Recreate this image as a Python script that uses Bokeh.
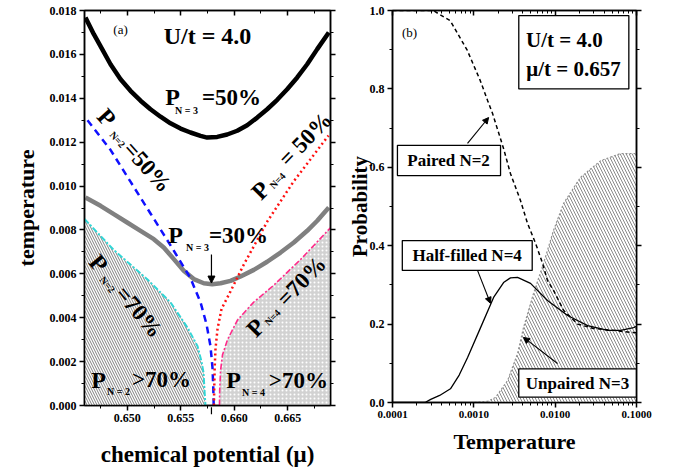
from bokeh.plotting import figure
from bokeh.layouts import row
from bokeh.models import (LinearAxis, LogAxis, FixedTicker, PrintfTickFormatter,
                          Label, Arrow, NormalHead, Range1d)
from bokeh.embed import file_html
from bokeh.resources import INLINE

SERIF = "Liberation Serif"

# ---------------- panel (a) data: temperature vs chemical potential ----------------
p3_50_mu = [0.64609, 0.64687, 0.64765, 0.64843, 0.64937, 0.65030, 0.65124, 0.65217, 0.65311,
            0.65404, 0.65498, 0.65591, 0.65685, 0.65747, 0.65841, 0.65934, 0.66028, 0.66121,
            0.66215, 0.66308, 0.66402, 0.66495, 0.66589, 0.66682, 0.66776, 0.66884]
p3_50_T = [0.01768, 0.01692, 0.01624, 0.01555, 0.01487, 0.01434, 0.01389, 0.01350, 0.01316,
           0.01286, 0.01262, 0.01244, 0.01229, 0.01221, 0.01224, 0.01235, 0.01252, 0.01277,
           0.01312, 0.01350, 0.01393, 0.01441, 0.01495, 0.01555, 0.01624, 0.01700]

p3_30_mu = [0.64609, 0.64750, 0.64874, 0.64999, 0.65124, 0.65248, 0.65341, 0.65435, 0.65528,
            0.65622, 0.65715, 0.65794, 0.65872, 0.65965, 0.66059, 0.66183, 0.66308, 0.66433,
            0.66557, 0.66682, 0.66776, 0.66884]
p3_30_T = [0.00948, 0.00910, 0.00872, 0.00834, 0.00796, 0.00758, 0.00720, 0.00667, 0.00614,
           0.00576, 0.00557, 0.00553, 0.00557, 0.00568, 0.00588, 0.00618, 0.00655, 0.00697,
           0.00743, 0.00796, 0.00842, 0.00902]

p2_50_mu = [0.64628, 0.64843, 0.65030, 0.65217, 0.65404, 0.65591, 0.65685, 0.65741, 0.65778,
            0.65797, 0.65804, 0.65808]
p2_50_T = [0.0130, 0.01165, 0.0102, 0.00875, 0.0073, 0.0058, 0.0047, 0.0037, 0.0027,
           0.0017, 0.0008, 0.0]

p4_50_mu = [0.65810, 0.65813, 0.65817, 0.65825, 0.65844, 0.65881, 0.65965, 0.66087, 0.66311,
            0.66554, 0.66881]
p4_50_T = [0.0, 0.0008, 0.0017, 0.0026, 0.0035, 0.0044, 0.0052, 0.0064, 0.0084, 0.0102, 0.0123]

p2_70_mu = [0.6460, 0.64871, 0.65189, 0.65404, 0.65563, 0.65657, 0.65694, 0.65713, 0.65722, 0.65731]
p2_70_T = [0.0085, 0.0071, 0.00574, 0.0047, 0.00355, 0.0027, 0.0020, 0.0015, 0.0007, 0.0]

p4_70_mu = [0.65862, 0.65864, 0.65872, 0.65890, 0.65937, 0.66031, 0.66180, 0.66367, 0.66620, 0.6690]
p4_70_T = [0.0, 0.0007, 0.0016, 0.0023, 0.0030, 0.0039, 0.0047, 0.00547, 0.00665, 0.0081]

mu_ticks = [0.650, 0.655, 0.660, 0.665]
mu_minor = [0.6475, 0.6525, 0.6575, 0.6625, 0.6675]
T_ticks = [0.000, 0.002, 0.004, 0.006, 0.008, 0.010, 0.012, 0.014, 0.016, 0.018]
T_minor = [0.001, 0.003, 0.005, 0.007, 0.009, 0.011, 0.013, 0.015, 0.017]

# ---------------- panel (b) data: probability vs temperature ----------------
paired_T = [1.0e-4, 3.16e-4, 5.13e-4, 8.32e-4, 1.20e-3, 1.48e-3, 1.70e-3, 2.32e-3, 2.82e-3,
            3.75e-3, 4.57e-3, 5.74e-3, 7.00e-3, 8.05e-3, 9.55e-3, 1.27e-2, 1.89e-2, 2.96e-2,
            5.22e-2, 8.51e-2, 0.1]
paired_P = [1.0, 1.0, 0.974, 0.898, 0.821, 0.77, 0.737, 0.648, 0.584,
            0.515, 0.457, 0.406, 0.355, 0.311, 0.286, 0.235, 0.200, 0.189,
            0.184, 0.179, 0.178]

half_T = [1.0e-4, 2.51e-4, 2.95e-4, 3.80e-4, 5.16e-4, 6.61e-4, 8.38e-4, 1.21e-3, 1.75e-3,
          2.32e-3, 2.82e-3, 3.45e-3, 4.98e-3, 8.05e-3, 1.42e-2, 2.51e-2, 4.42e-2, 6.37e-2,
          9.20e-2, 0.1]
half_P = [0.0, 0.0, 0.008, 0.018, 0.035, 0.07, 0.115, 0.191, 0.268,
          0.306, 0.318, 0.319, 0.304, 0.26, 0.222, 0.196, 0.184, 0.184,
          0.191, 0.194]

unpaired_T = [9.1e-4, 1.48e-3, 1.85e-3, 2.60e-3, 3.45e-3, 4.08e-3, 5.42e-3, 7.19e-3, 9.55e-3,
              1.27e-2, 2.04e-2, 3.63e-2, 6.37e-2, 0.1]
unpaired_P = [0.0, 0.003, 0.013, 0.056, 0.125, 0.191, 0.278, 0.355, 0.439,
              0.508, 0.574, 0.617, 0.635, 0.635]

logT_ticks = [1e-4, 1e-3, 1e-2, 1e-1]
logT_minor = [m * 10.0 ** e for e in (-4, -3, -2) for m in range(2, 10)]
P_ticks = [0.0, 0.2, 0.4, 0.6, 0.8, 1.0]
P_minor = [0.1, 0.3, 0.5, 0.7, 0.9]


def style_axis(ax, ticks, minor, fmt, label_size="11px", hidden=False, inward=False):
    ax.ticker = FixedTicker(ticks=ticks, minor_ticks=minor)
    ax.formatter = PrintfTickFormatter(format=fmt)
    ax.axis_line_width = 1.5
    ax.axis_line_color = "black"
    ax.major_tick_line_width = 1.5
    ax.minor_tick_line_width = 1
    if inward:
        ax.major_tick_in, ax.major_tick_out = 5, 0
        ax.minor_tick_in, ax.minor_tick_out = 3, 0
    else:
        ax.major_tick_in, ax.major_tick_out = 0, 5
        ax.minor_tick_in, ax.minor_tick_out = 0, 3
    ax.major_label_text_font = SERIF
    ax.major_label_text_font_style = "bold"
    ax.axis_label_text_font = SERIF
    ax.axis_label_text_font_style = "bold"
    ax.axis_label_text_color = "black"
    if hidden:
        ax.major_label_text_color = None
        ax.major_label_text_font_size = "1px"
        ax.major_label_standoff = 0
    else:
        ax.major_label_text_color = "black"
        ax.major_label_text_font_size = label_size
        ax.major_label_standoff = 3


def txt(p, x, y, text, size, angle=0.0, bold=True):
    p.add_layout(Label(x=x, y=y, text=text, text_font=SERIF, text_font_size=f"{size}px",
                       text_font_style="bold" if bold else "normal", text_color="black",
                       text_align="center", text_baseline="middle", angle=angle))


# ======================= panel (a) =======================
p1 = figure(frame_width=246, frame_height=395, x_range=Range1d(0.646, 0.669),
            y_range=Range1d(0.0, 0.018), output_backend="svg", toolbar_location=None,
            min_border_left=84, min_border_right=10, min_border_top=8, min_border_bottom=65)
p1.grid.visible = False
p1.outline_line_color = "black"
p1.outline_line_width = 1.5

style_axis(p1.xaxis[0], mu_ticks, mu_minor, "%.3f", label_size="12px")
style_axis(p1.yaxis[0], T_ticks, T_minor, "%.3f", label_size="12px")
p1.xaxis[0].axis_label = "chemical potential (\u03bc)"
p1.xaxis[0].axis_label_text_font_size = "23px"
p1.xaxis[0].axis_label_standoff = 17
p1.yaxis[0].axis_label = "temperature"
p1.yaxis[0].axis_label_text_font_size = "22px"
p1.yaxis[0].axis_label_standoff = 8
top1 = LinearAxis()
style_axis(top1, mu_ticks, mu_minor, "%.3f", hidden=True, inward=True)
p1.add_layout(top1, "above")
right1 = LinearAxis()
style_axis(right1, T_ticks, T_minor, "%.3f", hidden=True)
p1.add_layout(right1, "right")

# shaded regions
p1.varea(x=p2_70_mu, y1=0, y2=p2_70_T, fill_color="white", hatch_pattern="left_diagonal_line",
         hatch_color="#808080", hatch_scale=5, hatch_weight=1)
p1.varea(x=p4_70_mu, y1=0, y2=p4_70_T, fill_color="#d2d2d2", hatch_pattern="dot",
         hatch_color="white", hatch_scale=4, hatch_weight=1.5)
p1.line(p2_70_mu, p2_70_T, line_color="#33d6d6", line_width=2, line_dash="6 2 2 2")
p1.line(p4_70_mu, p4_70_T, line_color="#ff2a8a", line_width=1.6, line_dash="6 2 2 2")
p1.line(p3_30_mu, p3_30_T, line_color="#808080", line_width=4.5)
p1.line(p3_50_mu, p3_50_T, line_color="black", line_width=4.5)
p1.line(p2_50_mu, p2_50_T, line_color="#1010ff", line_width=2.5, line_dash="7 5")
p1.line(p4_50_mu, p4_50_T, line_color="#ff1010", line_width=2.5, line_dash="2 3")

# annotations panel (a)
txt(p1, 0.64937, 0.01713, "(a)", 13, bold=False)
txt(p1, 0.65750, 0.01686, "U/t = 4.0", 24)
# P_{N=3}=50%
txt(p1, 0.65423, 0.01408, "P", 24)
txt(p1, 0.65554, 0.01344, "N = 3", 10)
txt(p1, 0.65975, 0.01404, "=50%", 23)
# P_{N=3}=30%
txt(p1, 0.65451, 0.00779, "P", 24)
txt(p1, 0.65657, 0.00720, "N = 3", 10)
txt(p1, 0.66040, 0.00775, "=30%", 23)
# P_{N=2}=50% (rotated)
a = -0.84
txt(p1, 0.64806, 0.01312, "P", 24, angle=a)
txt(p1, 0.64909, 0.01212, "N=2", 10, angle=a)
txt(p1, 0.65188, 0.01087, "=50%", 23, angle=a)
# P_{N=4}=50% (rotated)
a = 0.80
txt(p1, 0.66246, 0.00980, "P", 24, angle=a)
txt(p1, 0.66405, 0.01025, "N=4", 10, angle=a)
txt(p1, 0.66665, 0.01213, "= 50%", 23, angle=a)
# P_{N=2}=70% (rotated)
a = -0.87
txt(p1, 0.64731, 0.00647, "P", 24, angle=a)
txt(p1, 0.64815, 0.00551, "N=2", 10, angle=a)
txt(p1, 0.65110, 0.00426, "=70%", 23, angle=a)
# P_{N=4}=70% (rotated)
a = 0.80
txt(p1, 0.66199, 0.00355, "P", 24, angle=a)
txt(p1, 0.66358, 0.00401, "N=4", 10, angle=a)
txt(p1, 0.66630, 0.00566, "=70%", 23, angle=a)
# P_{N=2}>70%, P_{N=4}>70%
txt(p1, 0.64731, 0.00118, "P", 24)
txt(p1, 0.64918, 0.00064, "N = 2", 10)
txt(p1, 0.65320, 0.00118, ">70%", 23)
txt(p1, 0.65993, 0.00114, "P", 24)
txt(p1, 0.66180, 0.00059, "N = 4", 10)
txt(p1, 0.66600, 0.00114, ">70%", 23)
# arrows
p1.add_layout(Arrow(end=NormalHead(size=7, fill_color="black", line_color="black"),
                    x_start=0.65787, y_start=0.00688, x_end=0.65787, y_end=0.00558,
                    line_width=1.2, line_color="black"))
p1.add_layout(Arrow(end=NormalHead(size=7, fill_color="black", line_color="black"),
                    x_start=0.65787, y_start=-0.00109, x_end=0.65787, y_end=-0.00008,
                    line_width=1.2, line_color="black"))
txt(p1, 0.65778, -0.00146, "\u03bc", 16)
txt(p1, 0.65853, -0.00169, "P", 10)

# ======================= panel (b) =======================
p2 = figure(frame_width=244, frame_height=392, x_axis_type="log", x_range=Range1d(1e-4, 0.1),
            y_range=Range1d(0.0, 1.0), output_backend="svg", toolbar_location=None,
            min_border_left=52, min_border_right=30, min_border_top=10, min_border_bottom=66)
p2.grid.visible = False
p2.outline_line_color = "black"
p2.outline_line_width = 1.5

style_axis(p2.xaxis[0], logT_ticks, logT_minor, "%.4f")
style_axis(p2.yaxis[0], P_ticks, P_minor, "%.1f", label_size="12px")
p2.xaxis[0].axis_label = "Temperature"
p2.xaxis[0].axis_label_text_font_size = "22px"
p2.xaxis[0].axis_label_standoff = 8
p2.yaxis[0].axis_label = "Probability"
p2.yaxis[0].axis_label_text_font_size = "21px"
p2.yaxis[0].axis_label_standoff = -5
top2 = LogAxis()
style_axis(top2, logT_ticks, logT_minor, "%.4f", hidden=True, inward=True)
p2.add_layout(top2, "above")
right2 = LinearAxis()
style_axis(right2, P_ticks, P_minor, "%.1f", hidden=True)
p2.add_layout(right2, "right")

p2.varea(x=unpaired_T, y1=0, y2=unpaired_P, fill_color="white",
         hatch_pattern="left_diagonal_line", hatch_color="#8a8a8a", hatch_scale=6, hatch_weight=1)
p2.line(unpaired_T, unpaired_P, line_color="#909090", line_width=1.2, line_dash="2 2")
p2.line(half_T, half_P, line_color="black", line_width=1.3)
p2.line(paired_T, paired_P, line_color="black", line_width=1.5, line_dash="4 3")

# label boxes
p2.quad(left=[1.15e-4, 1.32e-4, 3.57e-3, 3.57e-3], right=[2.13e-3, 5.22e-3, 0.1, 8.05e-2],
        bottom=[0.579, 0.337, 0.0135, 0.800], top=[0.656, 0.413, 0.086, 0.987],
        fill_color="white", line_color="black", line_width=1.3)
txt(p2, 4.89e-4, 0.617, "Paired N=2", 17)
txt(p2, 8.28e-4, 0.375, "Half-filled N=4", 17)
txt(p2, 1.88e-2, 0.048, "Unpaired N=3", 17)
txt(p2, 1.30e-2, 0.926, "U/t = 4.0", 21)
txt(p2, 1.68e-2, 0.852, "\u03bc/t = 0.657", 21)
txt(p2, 1.62e-4, 0.944, "(b)", 13, bold=False)

for xs, ys, xe, ye in [(8.36e-4, 0.661, 1.52e-3, 0.727),
                       (1.11e-3, 0.337, 1.60e-3, 0.253),
                       (1.07e-2, 0.0995, 4.08e-3, 0.166)]:
    p2.add_layout(Arrow(end=NormalHead(size=6, fill_color="black", line_color="black"),
                        x_start=xs, y_start=ys, x_end=xe, y_end=ye,
                        line_width=1.1, line_color="black"))

layout = row(p1, p2)
open("out.html", "w").write(file_html(layout, INLINE))
